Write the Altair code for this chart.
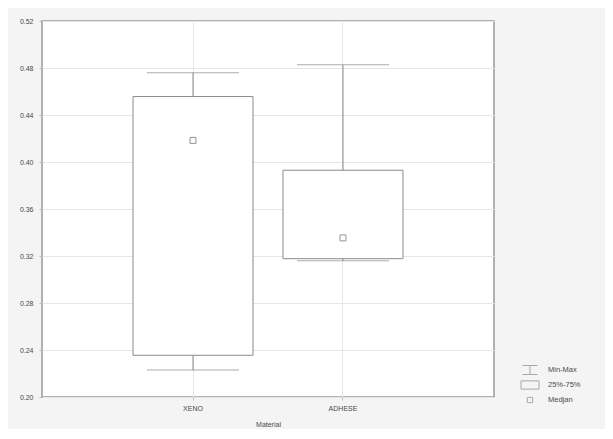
import altair as alt
import pandas as pd

materials = ["XENO", "ADHESE"]
mins = [0.223, 0.316]
q1 = [0.2355, 0.3177]
med = [0.4184, 0.3354]
q3 = [0.4557, 0.393]
maxs = [0.476, 0.4828]
legend_names = ["Min-Max", "25%-75%", "Medjan"]
y_ticks = [0.20, 0.24, 0.28, 0.32, 0.36, 0.40, 0.44, 0.48, 0.52]

df = pd.DataFrame({
    "Material": materials, "min": mins, "q1": q1, "med": med,
    "q3": q3, "max": maxs, "kind": ["Medjan"] * 2,
})

FONT = "Liberation Sans"
GRAY = "#8a8a8a"
TXT = "#4a4a4a"

x = alt.X("Material:N", sort=materials, title="Material",
          scale=alt.Scale(paddingInner=0.2, paddingOuter=0.6067),
          axis=alt.Axis(labelAngle=0, bandPosition=0.5, grid=True, gridColor="#e6e6e6",
                        domain=False, tickSize=3, tickColor="#bbbbbb",
                        labelFontSize=7, labelColor=TXT, titleFontSize=7,
                        titleColor=TXT, titleFontWeight="normal", titlePadding=9,
                        labelFont=FONT, titleFont=FONT, labelPadding=4))
yscale = alt.Scale(domain=[0.20, 0.52], nice=False, zero=False)
yaxis = alt.Axis(values=y_ticks, format=".2f", grid=True, gridColor="#e6e6e6",
                 domain=False, tickSize=3, tickColor="#bbbbbb", labelFontSize=7,
                 labelColor=TXT, labelFont=FONT, title=None, labelPadding=6)

base = alt.Chart(df)

whisk = base.mark_rule(color=GRAY, strokeWidth=1).encode(
    x=x, y=alt.Y("min:Q", scale=yscale, axis=yaxis), y2="max:Q")
caps_top = base.mark_tick(color=GRAY, size=92, thickness=1).encode(
    x=x, y=alt.Y("max:Q", scale=yscale))
caps_bot = base.mark_tick(color=GRAY, size=92, thickness=1).encode(
    x=x, y=alt.Y("min:Q", scale=yscale))
box = base.mark_bar(fill="white", stroke=GRAY, strokeWidth=1).encode(
    x=x, y=alt.Y("q1:Q", scale=yscale), y2="q3:Q")
median = base.mark_point(filled=False, color="#666666", size=290, strokeWidth=1).encode(
    x=x, y=alt.Y("med:Q", scale=yscale),
    shape=alt.Shape("kind:N", title=None,
                    scale=alt.Scale(domain=legend_names,
                                    range=["M-1,-0.6H1M0,-0.6V0.6M-1,0.6H1",
                                           "M-1.2,-0.55H1.2V0.55H-1.2Z",
                                           "M-0.35,-0.35H0.35V0.35H-0.35Z"]),
                    legend=alt.Legend(orient="none", legendX=480, legendY=341,
                                      symbolSize=225, symbolStrokeColor=GRAY,
                                      symbolFillColor="white", symbolStrokeWidth=1,
                                      labelFontSize=7.5, labelColor=TXT,
                                      labelFont=FONT, rowPadding=0, symbolOffset=0,
                                      labelOffset=10)))

chart = alt.layer(whisk, caps_top, caps_bot, box, median).properties(
    width=452, height=376,
    padding={"left": 34, "top": 13, "right": 111, "bottom": 32},
    autosize=alt.AutoSizeParams(type="none"),
    background="#f4f4f4",
).configure_view(fill="white", stroke="#999999", strokeWidth=1.5)

chart.save("out.html", embed_options={"renderer": "svg", "actions": False})
